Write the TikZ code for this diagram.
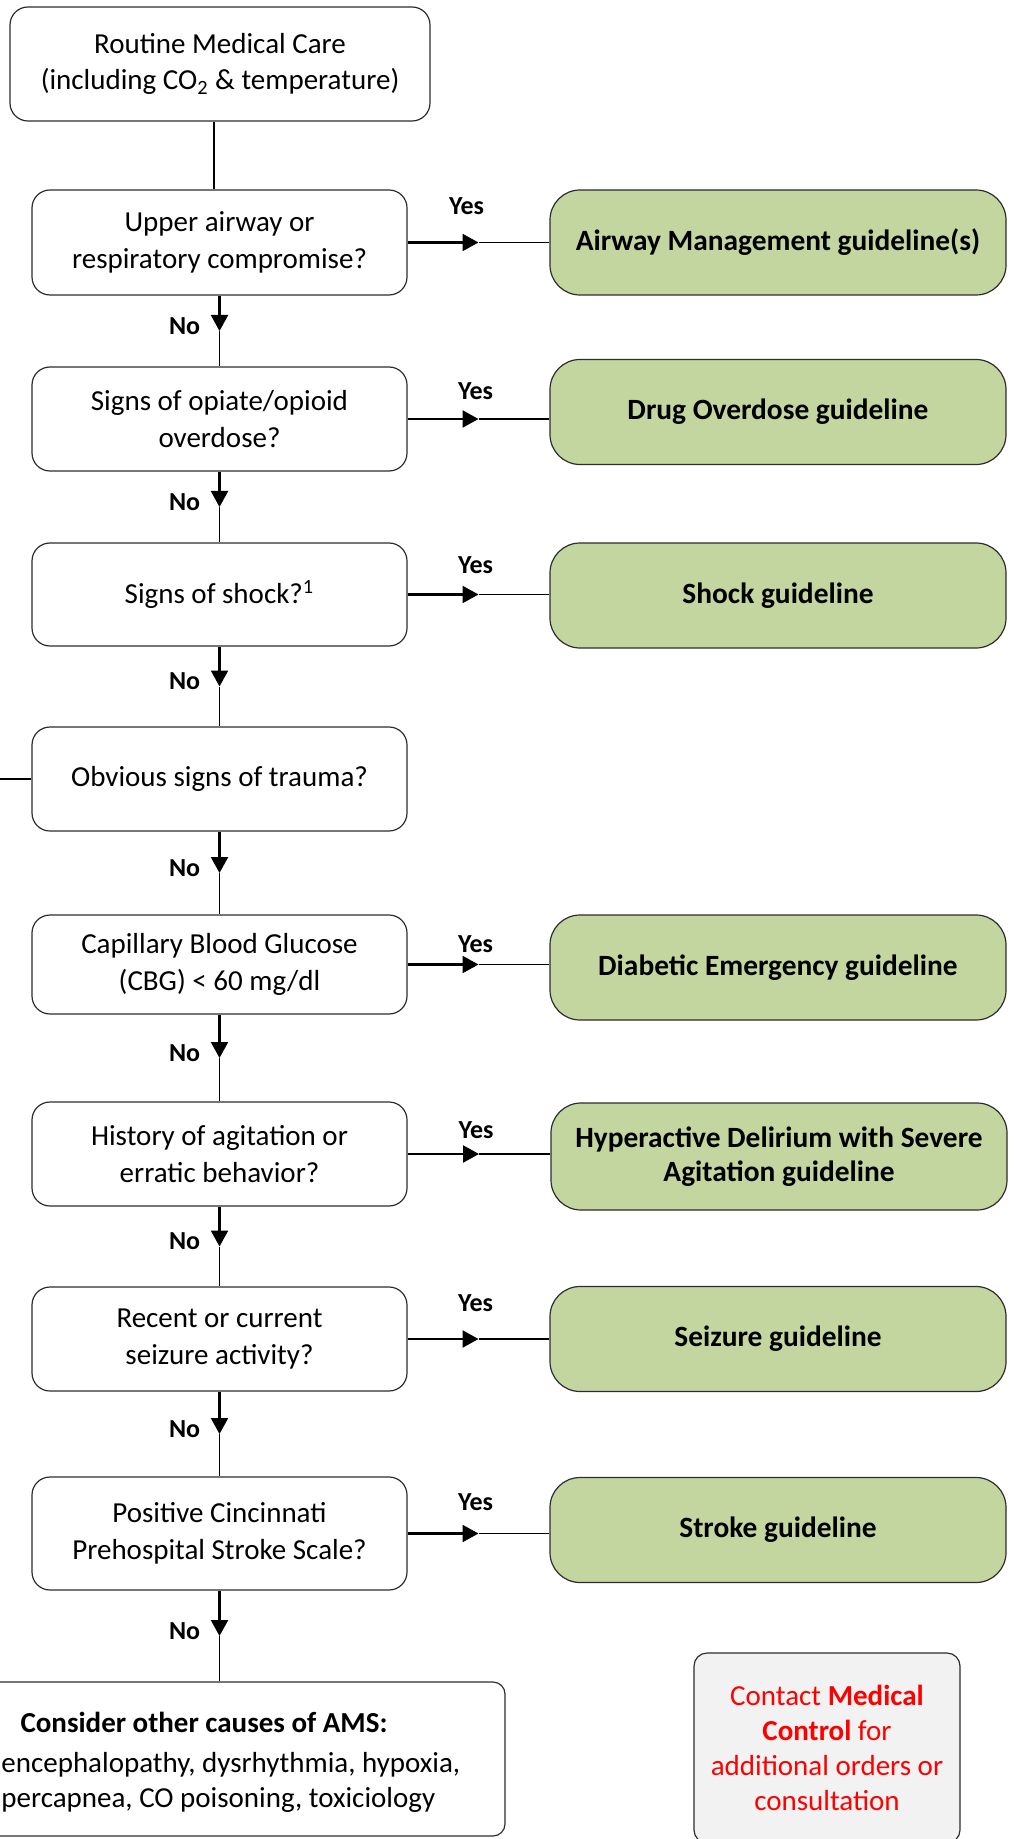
\documentclass[tikz,border=0pt]{standalone}
\usepackage{fontspec}
\setmainfont{Carlito}
\usetikzlibrary{arrows.meta,calc}
\definecolor{guidegreen}{RGB}{196,214,160}
\definecolor{boxline}{RGB}{45,45,45}
\definecolor{notegray}{RGB}{242,242,242}
\definecolor{alertred}{RGB}{255,0,0}

\begin{document}
\begin{tikzpicture}[x=0.5pt,y=-0.5pt,
  base/.style={draw=boxline, line width=0.6pt, align=center, inner sep=2pt,
    font=\fontsize{14.5}{18.3}\selectfont},
  startbox/.style={base, rounded corners=9pt, minimum width=210pt, minimum height=57pt},
  qbox/.style={base, rounded corners=9pt, minimum width=187.5pt, minimum height=52pt},
  guide/.style={base, fill=guidegreen, rounded corners=15pt, minimum width=228pt,
    minimum height=52.5pt, font=\fontsize{14.7}{17}\selectfont\bfseries},
  otherbox/.style={base, rounded corners=6pt, minimum width=303pt, minimum height=77pt},
  othertext/.style={inner sep=0pt, font=\fontsize{14.5}{18}\selectfont},
  note/.style={base, fill=notegray, rounded corners=6.5pt, minimum width=133pt,
    minimum height=95pt, text=alertred, font=\fontsize{14.5}{17.5}\selectfont},
  lead/.style={line width=1.1pt, -{Triangle[length=8pt,width=8.5pt]}},
  tail/.style={line width=0.6pt},
  lbl/.style={inner sep=0pt, font=\fontsize{13}{15}\selectfont\bfseries},
]
\useasboundingbox (0,0) rectangle (1013,1839);

% decision column
\node[startbox] (routine) at (220,64) {Routine Medical Care\\(including CO\textsubscript{2} \& temperature)};
\node[qbox, minimum height=52.5pt] (d1) at (219.5,242.5) {Upper airway or\\respiratory compromise?};
\node[qbox] (d2) at (219.5,419) {Signs of opiate/opioid\\overdose?};
\node[qbox, minimum height=51.5pt] (d3) at (219.5,594.5) {Signs of shock?\textsuperscript{1}};
\node[qbox] (d4) at (219.5,779) {Obvious signs of trauma?};
\node[qbox, minimum height=49.5pt] (d5) at (219.5,964.5) {Capillary Blood Glucose\\(CBG) < 60 mg/dl};
\node[qbox] (d6) at (219.5,1154) {History of agitation or\\erratic behavior?};
\node[qbox] (d7) at (219.5,1339) {Recent or current\\seizure activity?};
\node[qbox, minimum height=56.5pt] (d8) at (219.5,1533.5) {Positive Cincinnati\\Prehospital Stroke Scale?};

% guideline column
\node[guide] (g1) at (778,242.5) {Airway Management guideline(s)};
\node[guide] (g2) at (778,412) {Drug Overdose guideline};
\node[guide] (g3) at (778,595.5) {Shock guideline};
\node[guide] (g5) at (778,967.5) {Diabetic Emergency guideline};
\node[guide, minimum height=53.5pt] (g6) at (779,1156.5) {Hyperactive Delirium with Severe\\Agitation guideline};
\node[guide] (g7) at (778,1339) {Seizure guideline};
\node[guide] (g8) at (778,1530) {Stroke guideline};

% closing boxes
\node[otherbox] (other) at (202,1759) {};
\node[othertext, anchor=base] (o1) at (204,1732) {\bfseries Consider other causes of AMS:};
\node[othertext, anchor=base west] (o2) at (1,1772) {encephalopathy, dysrhythmia, hypoxia,};
\node[othertext, anchor=base west] (o3) at (1,1807) {percapnea, CO poisoning, toxiciology};
\node[note] (contact) at (827,1748) {Contact \textbf{Medical}\\\textbf{Control} for\\additional orders or\\consultation};

% trauma branch leaving the left edge
\coordinate (edge) at (0,779);

% vertical "No" path
\coordinate (r0) at ($(routine.south)+(-6,0)$);
\draw[tail] (r0) -- (r0 |- d1.north);
\foreach \a/\b in {d1/d2, d2/d3, d3/d4, d4/d5, d5/d6, d6/d7, d7/d8} {
  \coordinate (m-\a) at ($(\a.south)!0.5!(\b.north)$);
  \draw[lead] (\a.south) -- (m-\a);
  \draw[tail] (m-\a) -- (\b.north);
  \node[lbl, anchor=east] (no-\a) at ($(m-\a)+(-19,-5)$) {No};
}
\coordinate (m-d8) at ($(d8.south)!0.5!(d8.south |- other.north)$);
\draw[lead] (d8.south) -- (m-d8);
\draw[tail] (m-d8) -- (d8.south |- other.north);
\node[lbl, anchor=east] (no-d8) at ($(m-d8)+(-19,-5)$) {No};

\draw[tail] (d4.west) -- (edge);

% horizontal "Yes" branches
\foreach \a/\b/\dx/\dy in {d1/g1/-12/-36, d2/g2/-3/-28, d3/g3/-3/-29, d5/g5/-3/-20,
                           d6/g6/-3/-24, d7/g7/-3/-36, d8/g8/-3/-31} {
  \coordinate (y-\a) at ($(\a.east)!0.5!(\a.east -| \b.west)$);
  \draw[lead] (\a.east) -- (y-\a);
  \draw[tail] (y-\a) -- (\a.east -| \b.west);
  \node[lbl] (yes-\a) at ($(y-\a)+(\dx,\dy)$) {Yes};
}
\end{tikzpicture}
\end{document}
